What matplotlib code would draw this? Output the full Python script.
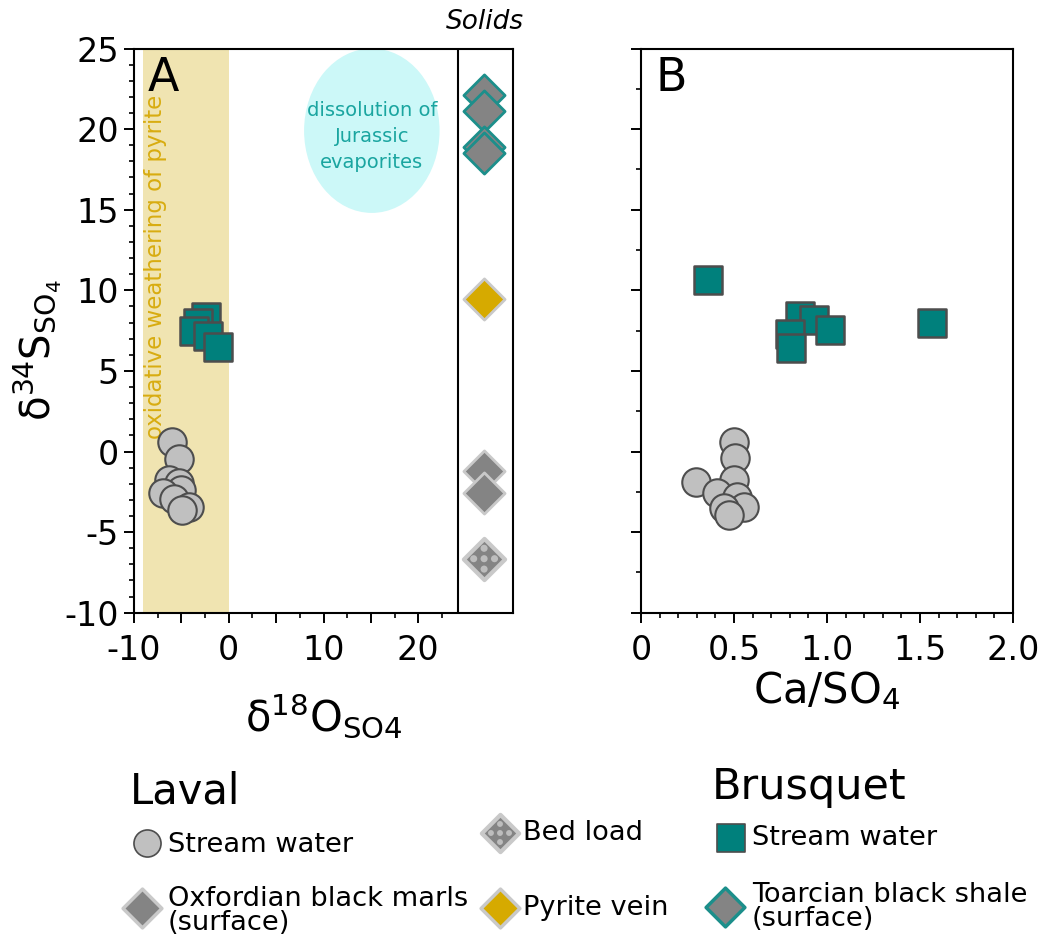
import matplotlib
matplotlib.use("Agg")
import matplotlib.pyplot as plt
import matplotlib.transforms as mtransforms
from matplotlib.patches import Ellipse
from matplotlib.ticker import FixedLocator, FuncFormatter, MultipleLocator

plt.rcParams['font.family'] = ['DejaVu Sans']
plt.rcParams['mathtext.default'] = 'regular'
plt.rcParams['axes.unicode_minus'] = False

# ---- Laval stream water: d18O-SO4 vs d34S-SO4 ----
laval_d18o = [-5.96, -5.22, -6.32, -5.26, -5.08, -6.95, -5.79, -4.24, -4.91]
laval_d34s_a = [0.57, -0.45, -1.77, -1.96, -2.39, -2.59, -2.97, -3.42, -3.63]
# ---- Laval stream water: Ca/SO4 vs d34S-SO4 ----
laval_ca_so4 = [0.498, 0.507, 0.501, 0.295, 0.411, 0.516, 0.555, 0.447, 0.474]
laval_d34s_b = [0.57, -0.42, -1.77, -1.87, -2.59, -2.84, -3.42, -3.50, -3.94]

# ---- Brusquet stream water ----
brusquet_d18o = [-2.38, -3.29, -3.68, -2.21, -1.16]
brusquet_d34s_a = [8.36, 7.97, 7.49, 7.18, 6.50]
brusquet_ca_so4 = [0.361, 0.857, 0.929, 1.015, 0.802, 0.809, 1.565]
brusquet_d34s_b = [10.64, 8.41, 8.16, 7.54, 7.27, 6.44, 7.99]

# ---- Solids (d34S only, plotted in the "Solids" column) ----
solids_x = 26.95
toarcian_d34s = [22.1, 21.1, 18.9, 18.5]
pyrite_d34s = [9.44]
oxfordian_d34s = [-1.21, -2.56]
bedload_d34s = [-6.65]

# ---- reference fields ----
pyrite_field = (-9.1, 0.0)          # d18O range, oxidative weathering of pyrite
evaporite_center = (15.1, 19.9)     # d18O, d34S
evaporite_size = (14.3, 10.2)
solids_divider = 24.2

# colours
C_CIRCLE = '#c0c0c0'
C_EDGE = '#4d4d4d'
C_TEAL = '#00807c'
C_TEAL_EDGE = '#1c8f8b'
C_GREY = '#848484'
C_LIGHT_EDGE = '#c9c9c9'
C_PYRITE = '#d6aa00'
C_BAND = '#f0e4b1'
C_EVAP = '#ccf8f8'
C_EVAP_TXT = '#1aa5a0'
C_BAND_TXT = '#d8ac10'

W, H = 1057, 938
fig = plt.figure(figsize=(W / 100, H / 100), dpi=100)

axA = fig.add_axes([134 / W, 1 - 612.7 / H, (513 - 134) / W, (612.7 - 48.5) / H])
axB = fig.add_axes([641 / W, 1 - 612.7 / H, (1013 - 641) / W, (612.7 - 48.5) / H])

S_CIRC = 420
S_SQ = 380
S_DIA = 440

for ax in (axA, axB):
    for sp in ax.spines.values():
        sp.set_linewidth(1.5)
    ax.tick_params(which='major', direction='out', length=7, width=1.4, labelsize=24)
    ax.tick_params(axis='x', which='major', pad=8)
    ax.tick_params(axis='y', which='major', pad=4)
    ax.tick_params(which='minor', direction='out', length=3.5, width=1.2)
    ax.set_ylim(-10, 25)

# ---------------- Panel A ----------------
axA.set_xlim(-10, 30)
axA.axvspan(pyrite_field[0], pyrite_field[1], color=C_BAND, lw=0, zorder=0)
axA.add_patch(Ellipse(evaporite_center, evaporite_size[0], evaporite_size[1],
                      facecolor=C_EVAP, edgecolor='none', zorder=0.5))
axA.text(evaporite_center[0], evaporite_center[1] - 0.35,
         'dissolution of\nJurassic\nevaporites', color=C_EVAP_TXT, fontsize=14,
         ha='center', va='center', linespacing=1.45, zorder=1)
axA.text(-7.75, 0.8, 'oxidative weathering of pyrite', rotation=90, color=C_BAND_TXT,
         fontsize=16.5, ha='center', va='bottom', zorder=1)
axA.axvline(solids_divider, color='black', lw=1.5, zorder=1)

axA.scatter(laval_d18o, laval_d34s_a, s=S_CIRC, marker='o', facecolor=C_CIRCLE,
            edgecolor=C_EDGE, linewidth=1.5, zorder=3)
axA.scatter(brusquet_d18o, brusquet_d34s_a, s=S_SQ, marker='s', facecolor=C_TEAL,
            edgecolor=C_EDGE, linewidth=1.8, zorder=3)

axA.scatter([solids_x] * len(toarcian_d34s), toarcian_d34s, s=S_DIA, marker='D',
            facecolor=C_GREY, edgecolor=C_TEAL_EDGE, linewidth=2, zorder=3)
axA.scatter([solids_x] * len(pyrite_d34s), pyrite_d34s, s=S_DIA, marker='D',
            facecolor=C_PYRITE, edgecolor=C_LIGHT_EDGE, linewidth=2, zorder=3)
axA.scatter([solids_x] * len(oxfordian_d34s), oxfordian_d34s, s=S_DIA, marker='D',
            facecolor=C_GREY, edgecolor=C_LIGHT_EDGE, linewidth=2, zorder=3)


def bedload_marker(ax, xs, ys, size, dot_off, dot_size, transform_base=None):
    base = transform_base if transform_base is not None else ax.transData
    ax.scatter(xs, ys, s=size, marker='D', facecolor=C_GREY,
               edgecolor=C_LIGHT_EDGE, linewidth=3, zorder=3, transform=base)
    for dx, dy in [(0, 0), (dot_off, 0), (-dot_off, 0), (0, dot_off), (0, -dot_off)]:
        tr = base + mtransforms.ScaledTranslation(dx / 72, dy / 72, fig.dpi_scale_trans)
        ax.scatter(xs, ys, s=dot_size, marker='o', facecolor='#bdbdbd',
                   edgecolor='none', zorder=4, transform=tr)


bedload_marker(axA, [solids_x] * len(bedload_d34s), bedload_d34s, S_DIA, 7.5, 26)

axA.xaxis.set_major_locator(FixedLocator([-10, -5, 0, 5, 10, 15, 20]))
axA.xaxis.set_major_formatter(FuncFormatter(lambda v, p: '%d' % v if v % 10 == 0 else ''))
axA.xaxis.set_minor_locator(FixedLocator([-7.5, -2.5, 2.5, 7.5, 12.5, 17.5, 22.5]))
axA.yaxis.set_major_locator(MultipleLocator(5))
axA.yaxis.set_minor_locator(MultipleLocator(1))
axA.set_xlabel('δ$^{18}$O$_{SO4}$', fontsize=30, labelpad=18)
axA.set_ylabel('δ$^{34}$S$_{SO_4}$', fontsize=29)
axA.yaxis.set_label_coords(-0.186, 0.466)
axA.text(0.037, 0.925, 'A', transform=axA.transAxes, fontsize=33, ha='left', va='baseline')

# ---------------- Panel B ----------------
axB.set_xlim(0, 2.0)
axB.scatter(laval_ca_so4, laval_d34s_b, s=S_CIRC, marker='o', facecolor=C_CIRCLE,
            edgecolor=C_EDGE, linewidth=1.5, zorder=3)
axB.scatter(brusquet_ca_so4, brusquet_d34s_b, s=S_SQ, marker='s', facecolor=C_TEAL,
            edgecolor=C_EDGE, linewidth=1.8, zorder=3)
axB.xaxis.set_major_locator(MultipleLocator(0.5))
axB.xaxis.set_major_formatter(FuncFormatter(lambda v, p: '0' if v == 0 else '%.1f' % v))
axB.xaxis.set_minor_locator(MultipleLocator(0.1))
axB.yaxis.set_major_locator(MultipleLocator(5))
axB.yaxis.set_minor_locator(MultipleLocator(2.5))
axB.tick_params(axis='y', which='both', labelleft=False)
axB.set_xlabel('Ca/SO$_4$', fontsize=30, labelpad=2)
axB.text(0.04, 0.925, 'B', transform=axB.transAxes, fontsize=33, ha='left', va='baseline')

fig.text(485 / W, 1 - 22 / H, 'Solids', fontsize=19, style='italic', ha='center', va='center')

# ---------------- Legend block ----------------
lg = fig.add_axes([0, 0, 1, 1], zorder=5)
lg.set_xlim(0, W)
lg.set_ylim(H, 0)
lg.axis('off')
lg.patch.set_alpha(0)

lg.text(130, 792, 'Laval', fontsize=30, ha='left', va='center')
lg.text(712, 787, 'Brusquet', fontsize=31, ha='left', va='center')

LBL = 19.6
lg.scatter([147], [843], s=380, marker='o', facecolor=C_CIRCLE, edgecolor=C_EDGE, linewidth=1.2)
lg.text(168, 845, 'Stream water', fontsize=LBL, ha='left', va='center')

lg.scatter([142], [908], s=390, marker='D', facecolor=C_GREY, edgecolor=C_LIGHT_EDGE, linewidth=2.5)
lg.text(168, 911, 'Oxfordian black marls\n(surface)', fontsize=LBL, ha='left', va='center',
        linespacing=0.95)

bedload_marker(lg, [500], [833], 360, 6.5, 18, transform_base=lg.transData)
lg.text(523, 833, 'Bed load', fontsize=LBL, ha='left', va='center')

lg.scatter([500], [908], s=390, marker='D', facecolor=C_PYRITE, edgecolor=C_LIGHT_EDGE, linewidth=2.5)
lg.text(523, 908, 'Pyrite vein', fontsize=LBL, ha='left', va='center')

lg.scatter([731], [838], s=380, marker='s', facecolor=C_TEAL, edgecolor=C_EDGE, linewidth=1.2)
lg.text(752, 838, 'Stream water', fontsize=LBL, ha='left', va='center')

lg.scatter([725], [907], s=390, marker='D', facecolor=C_GREY, edgecolor=C_TEAL_EDGE, linewidth=2.5)
lg.text(752, 907, 'Toarcian black shale\n(surface)', fontsize=LBL, ha='left', va='center',
        linespacing=0.95)

fig.savefig('out.png', dpi=100)
